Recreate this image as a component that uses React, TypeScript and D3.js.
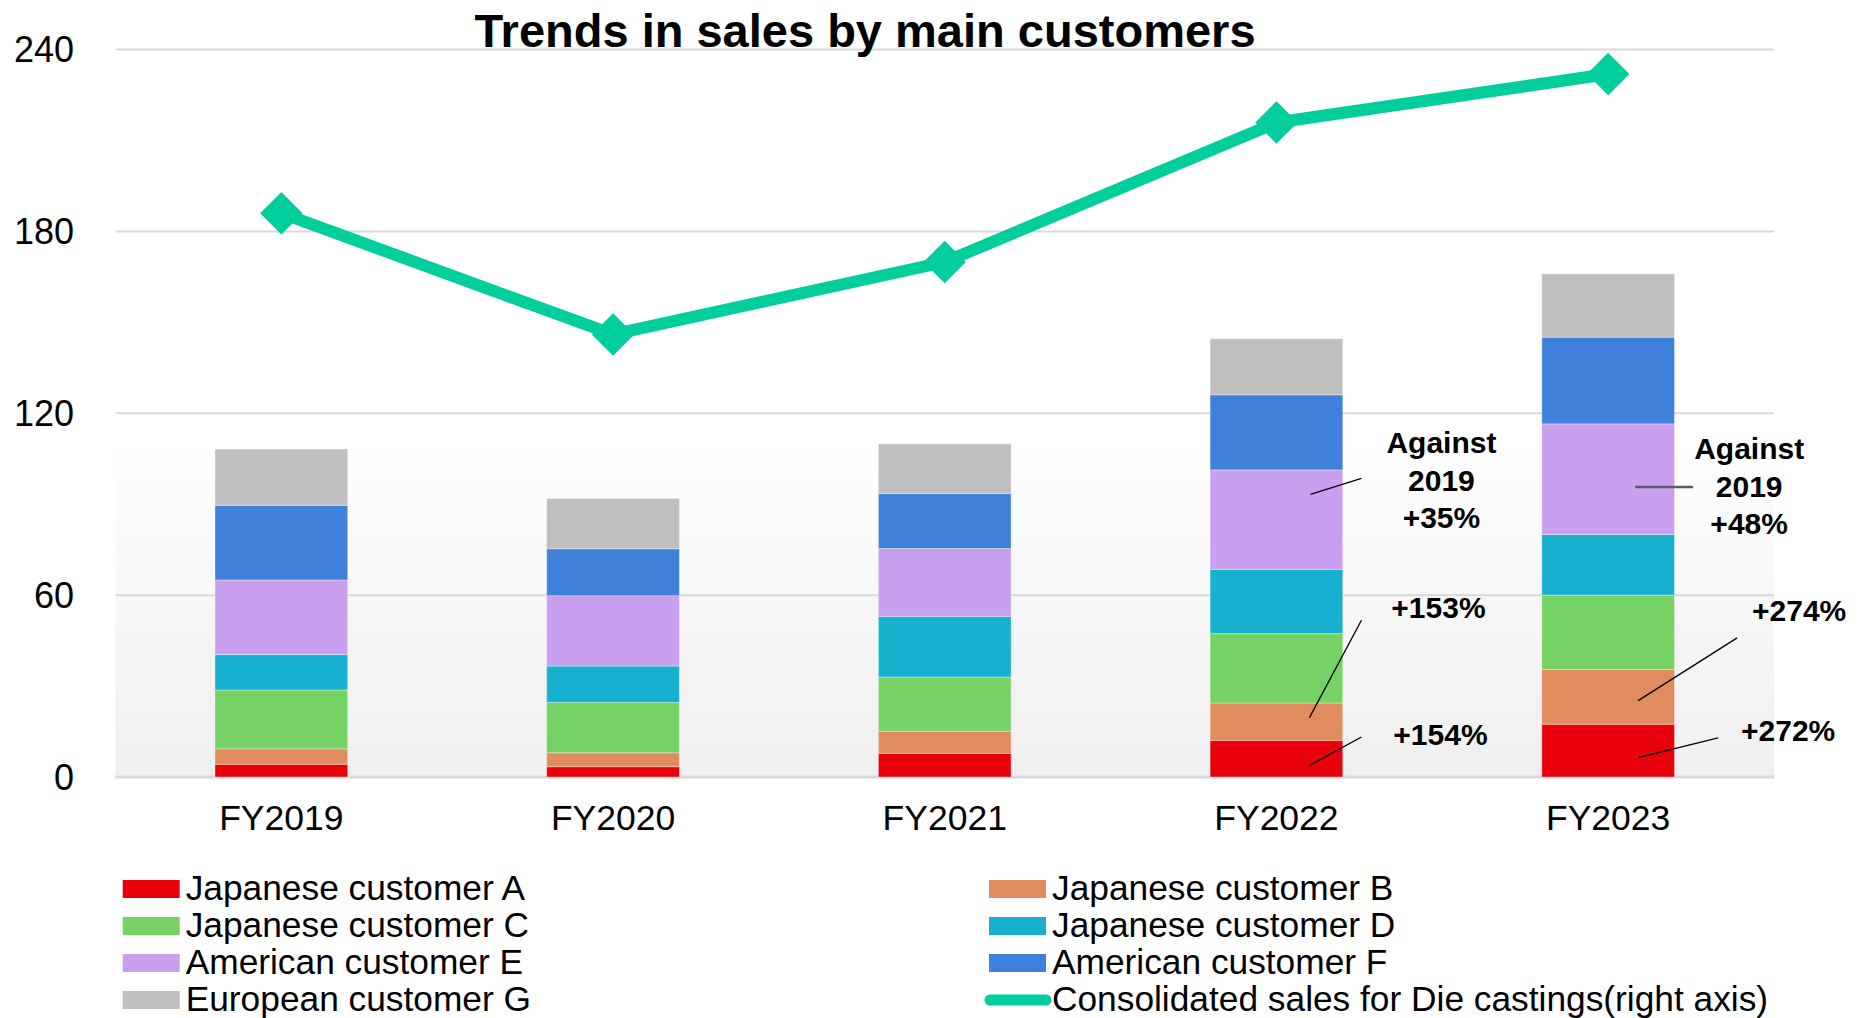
import React from "react";
import * as d3 from "d3";

const categories = ["FY2019", "FY2020", "FY2021", "FY2022", "FY2023"];
const custA = [4.2, 3.4, 7.8, 12.1, 17.4];
const custB = [5.1, 4.6, 7.3, 12.3, 18.1];
const custC = [19.4, 16.6, 17.9, 22.9, 24.5];
const custD = [11.7, 12.0, 20.0, 21.2, 20.0];
const custE = [24.6, 23.2, 22.4, 32.8, 36.5];
const custF = [24.6, 15.5, 18.1, 24.8, 28.6];
const custG = [18.6, 16.6, 16.4, 18.5, 20.9];
const consolidated = [186.0, 146.0, 169.9, 215.9, 231.9];
const yTicks = [0, 60, 120, 180, 240];

const seriesNames = [
  "Japanese customer A",
  "Japanese customer B",
  "Japanese customer C",
  "Japanese customer D",
  "American customer E",
  "American customer F",
  "European customer G",
];
const seriesColors = ["#E8000B", "#E18C5E", "#76D265", "#17B1CF", "#C99FEF", "#3E80DA", "#BFBFBF"];
const lineName = "Consolidated sales for Die castings(right axis)";
const lineColor = "#00CE9C";

// annotations: anchored on a category, x offsets from bar centre, y in data units
const annoTexts = [
  { cat: "FY2022", dx: 165, v: 106.8, lines: ["Against", "2019", "+35%"] },
  { cat: "FY2022", dx: 162, v: 52.5, lines: ["+153%"] },
  { cat: "FY2022", dx: 164, v: 10.6, lines: ["+154%"] },
  { cat: "FY2023", dx: 141, v: 104.8, lines: ["Against", "2019", "+48%"] },
  { cat: "FY2023", dx: 191, v: 51.6, lines: ["+274%"] },
  { cat: "FY2023", dx: 180, v: 12.0, lines: ["+272%"] },
];
const annoLeaders = [
  { cat: "FY2022", dx1: 34, v1: 93.2, dx2: 85, v2: 98.5, dark: false },
  { cat: "FY2022", dx1: 33, v1: 19.6, dx2: 85, v2: 51.7, dark: false },
  { cat: "FY2022", dx1: 33, v1: 3.8, dx2: 85, v2: 13.2, dark: false },
  { cat: "FY2023", dx1: 27, v1: 95.7, dx2: 85, v2: 95.7, dark: true },
  { cat: "FY2023", dx1: 30, v1: 25.2, dx2: 129, v2: 45.9, dark: false },
  { cat: "FY2023", dx1: 30, v1: 6.4, dx2: 110, v2: 12.9, dark: false },
];

const W = 1867;
const H = 1018;
const FONT = "'Liberation Sans', Arial, sans-serif";

export default function App() {
  const x = d3.scaleBand<string>().domain(categories).range([115.5, 1774]).paddingInner(0.6).paddingOuter(0.3);
  const y = d3.scaleLinear().domain([0, 240]).range([777, 49.5]);
  const yRight = d3.scaleLinear().domain([0, 240]).range([777, 49.5]);
  const bw = x.bandwidth();
  const cx = (c: string) => (x(c) as number) + bw / 2;

  const allSeries = [custA, custB, custC, custD, custE, custF, custG];
  const table = categories.map((c, i) => {
    const row: any = { cat: c };
    seriesNames.forEach((n, j) => (row[n] = allSeries[j][i]));
    return row;
  });
  const stacked = d3.stack().keys(seriesNames)(table);

  const lineGen = d3
    .line<number>()
    .x((_, i) => cx(categories[i]))
    .y((d) => yRight(d));
  const diamond = d3.symbol(d3.symbolSquare, 900)() as string;

  const legendRows = [
    { name: seriesNames[0], color: seriesColors[0], col: 0, row: 0 },
    { name: seriesNames[1], color: seriesColors[1], col: 1, row: 0 },
    { name: seriesNames[2], color: seriesColors[2], col: 0, row: 1 },
    { name: seriesNames[3], color: seriesColors[3], col: 1, row: 1 },
    { name: seriesNames[4], color: seriesColors[4], col: 0, row: 2 },
    { name: seriesNames[5], color: seriesColors[5], col: 1, row: 2 },
    { name: seriesNames[6], color: seriesColors[6], col: 0, row: 3 },
  ];
  const colX = [122.7, 989];
  const rowY = [889, 926, 963, 1000];

  return (
    <svg width={W} height={H} style={{ position: "absolute", left: 0, top: 0, background: "#fff" }} fontFamily={FONT}>
      <defs>
        <linearGradient id="bgGrad" x1="0" y1="0" x2="0" y2="1">
          <stop offset="0" stopColor="#FFFFFF" />
          <stop offset="1" stopColor="#EFEFEF" />
        </linearGradient>
      </defs>
      <rect x={115.5} y={y(113.5)} width={1774 - 115.5} height={y(0) - y(113.5)} fill="url(#bgGrad)" />
      {yTicks.map((t) => (
        <g key={t}>
          <line x1={115.5} x2={1774} y1={y(t)} y2={y(t)} stroke="#D9D9D9" strokeWidth={t === 0 ? 3 : 2} />
          <text x={74} y={y(t)} textAnchor="end" dominantBaseline="central" fontSize={36} fill="#000">
            {t}
          </text>
        </g>
      ))}
      {stacked.map((s, j) => (
        <g key={s.key} fill={seriesColors[j]}>
          {s.map((d, i) => (
            <rect
              key={i}
              x={x(categories[i])}
              width={bw}
              y={y(d[1])}
              height={y(d[0]) - y(d[1])}
              stroke="rgba(255,255,255,0.35)"
              strokeWidth={1}
            />
          ))}
        </g>
      ))}
      {categories.map((c) => (
        <text key={c} x={cx(c)} y={830} textAnchor="middle" fontSize={35.5} fill="#000">
          {c}
        </text>
      ))}
      <path d={lineGen(consolidated) as string} fill="none" stroke={lineColor} strokeWidth={12} strokeLinejoin="round" />
      {consolidated.map((v, i) => (
        <path key={i} d={diamond} transform={`translate(${cx(categories[i])},${yRight(v)}) rotate(45)`} fill={lineColor} />
      ))}
      {annoLeaders.map((a, i) => (
        <line
          key={i}
          x1={cx(a.cat) + a.dx1}
          y1={y(a.v1)}
          x2={cx(a.cat) + a.dx2}
          y2={y(a.v2)}
          stroke={a.dark ? "#5A5A6A" : "#000"}
          strokeWidth={a.dark ? 2.5 : 1.3}
        />
      ))}
      {annoTexts.map((a, i) => (
        <text key={i} x={cx(a.cat) + a.dx} y={y(a.v)} textAnchor="middle" fontSize={30} fontWeight="bold" fill="#000">
          {a.lines.map((l, k) => (
            <tspan key={k} x={cx(a.cat) + a.dx} dy={k === 0 ? 0 : 37.5}>
              {l}
            </tspan>
          ))}
        </text>
      ))}
      <text x={865} y={47} textAnchor="middle" fontSize={47} fontWeight="bold" fill="#000">
        Trends in sales by main customers
      </text>
      {legendRows.map((l) => (
        <g key={l.name}>
          <rect x={colX[l.col]} y={rowY[l.row] - 9} width={57} height={18} fill={l.color} />
          <text x={colX[l.col] + 63} y={rowY[l.row] + 11} fontSize={35.3} fill="#000">
            {l.name}
          </text>
        </g>
      ))}
      <g>
        <line x1={colX[1] + 1} x2={colX[1] + 57} y1={rowY[3]} y2={rowY[3]} stroke={lineColor} strokeWidth={11} strokeLinecap="round" />
        <path d={d3.symbol(d3.symbolSquare, 40)() as string} transform={`translate(${colX[1] + 29},${rowY[3]}) rotate(45)`} fill={lineColor} />
        <text x={colX[1] + 63} y={rowY[3] + 11} fontSize={35.3} fill="#000">
          {lineName}
        </text>
      </g>
    </svg>
  );
}
